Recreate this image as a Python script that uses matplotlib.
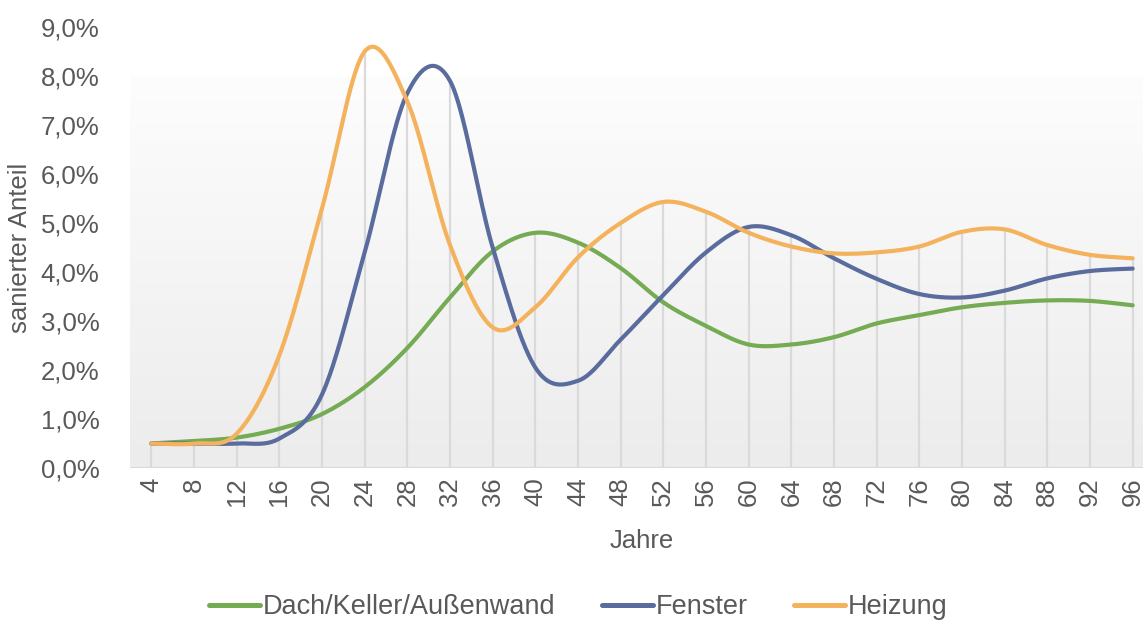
import numpy as np
import matplotlib.pyplot as plt
from matplotlib.colors import LinearSegmentedColormap

plt.rcParams['font.family'] = ['Liberation Sans', 'DejaVu Sans']

# Anteil sanierter Bauteile je Gebäudealter (in %)
jahre = list(range(4, 100, 4))
dach = [0.50, 0.55, 0.62, 0.80, 1.10, 1.65, 2.45, 3.48, 4.42, 4.80, 4.60, 4.08,
        3.38, 2.90, 2.52, 2.52, 2.67, 2.95, 3.12, 3.28, 3.37, 3.42, 3.41, 3.32]
fenster = [0.50, 0.50, 0.50, 0.60, 1.50, 4.40, 7.65, 7.90, 4.50, 2.05, 1.78, 2.62,
           3.53, 4.40, 4.92, 4.75, 4.28, 3.86, 3.55, 3.48, 3.62, 3.87, 4.02, 4.07]
heizung = [0.50, 0.50, 0.70, 2.30, 5.30, 8.50, 7.48, 4.55, 2.87, 3.28, 4.30, 5.00,
           5.43, 5.23, 4.80, 4.52, 4.38, 4.40, 4.52, 4.82, 4.87, 4.55, 4.35, 4.28]

serien = {'Dach/Keller/Außenwand': (dach, '#75ab52'),
          'Fenster': (fenster, '#5a6c9d'),
          'Heizung': (heizung, '#f4b25d')}


def glatt(x, y, n=40):
    # geglättete Linie wie in Excel (Bezier, Kontrollpunkte aus Nachbarpunkten)
    x = np.asarray(x, float)
    y = np.asarray(y, float)
    xs, ys = [], []
    t = np.linspace(0, 1, n)
    for i in range(len(x) - 1):
        i0 = max(i - 1, 0)
        i3 = min(i + 2, len(x) - 1)
        c1x = x[i] + (x[i + 1] - x[i0]) / 6
        c1y = y[i] + (y[i + 1] - y[i0]) / 6
        c2x = x[i + 1] - (x[i3] - x[i]) / 6
        c2y = y[i + 1] - (y[i3] - y[i]) / 6
        b0, b1, b2, b3 = (1 - t) ** 3, 3 * t * (1 - t) ** 2, 3 * t ** 2 * (1 - t), t ** 3
        xs.append(b0 * x[i] + b1 * c1x + b2 * c2x + b3 * x[i + 1])
        ys.append(b0 * y[i] + b1 * c1y + b2 * c2y + b3 * y[i + 1])
    return np.concatenate(xs), np.concatenate(ys)


fig = plt.figure(figsize=(11.43, 6.21), dpi=100)
ax = fig.add_axes([130 / 1143, 0.2464, 1024 / 1143, 0.7101])

# leichter Verlauf im Hintergrund
verlauf = np.linspace(0, 1, 256).reshape(-1, 1)
bg = LinearSegmentedColormap.from_list('bg', ['#fdfdfd', '#ececec'])
ax.imshow(verlauf, extent=(2, 98, 0, 8), aspect='auto', cmap=bg,
          origin='upper', zorder=0)

# Lotlinien bis zum höchsten Wert je Kategorie
hoechst = np.max([dach, fenster, heizung], axis=0)
ax.vlines(jahre, 0, hoechst, color='#dadada', lw=1.6, zorder=1)

for name, (werte, farbe) in serien.items():
    gx, gy = glatt(jahre, werte)
    ax.plot(gx, gy, color=farbe, lw=3.0, label=name, zorder=3,
            solid_capstyle='round')

ax.axhline(0, color='#d9d9d9', lw=1.5, zorder=2)
ax.set_xlim(2, 98)
ax.set_ylim(0, 9)
ax.set_xticks(jahre)
ax.set_xticklabels([str(j) for j in jahre], rotation=90)
ax.set_yticks(np.arange(0, 10, 1))
ax.set_yticklabels([f'{v},0%' for v in range(10)])
ax.tick_params(length=0, labelsize=18.5, colors='#595959')
ax.tick_params(axis='y', pad=22)
ax.tick_params(axis='x', pad=7)
for s in ax.spines.values():
    s.set_visible(False)

ax.set_xlabel('Jahre', fontsize=18.5, color='#595959', labelpad=16)
ax.set_ylabel('sanierter Anteil', fontsize=18.5, color='#595959', labelpad=6)

leg = fig.legend(loc='center', bbox_to_anchor=(0.506, 0.022), ncol=3, frameon=False,
                 fontsize=19.5, handlelength=1.9, handletextpad=0.1, columnspacing=1.7,
                 labelcolor='#595959')
for h in leg.get_lines():
    h.set_linewidth(3.6)

fig.savefig('out.png', dpi=100)
